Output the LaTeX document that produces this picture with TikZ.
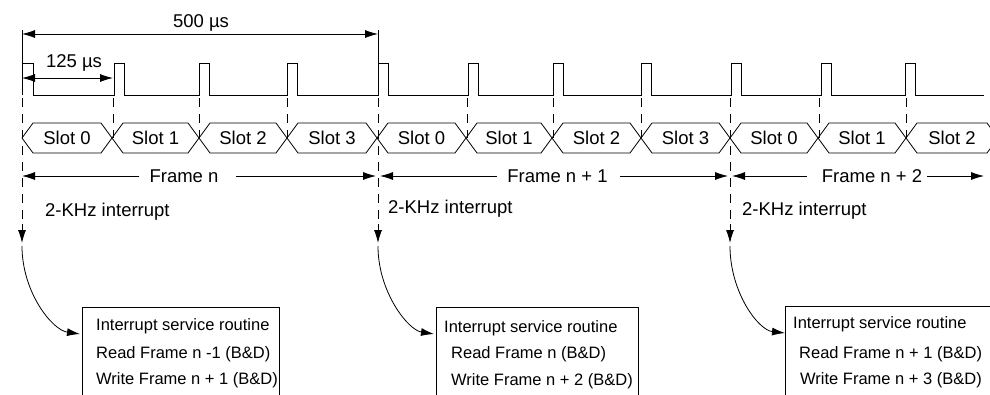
\documentclass[tikz,border=0pt]{standalone}
\usepackage{fontspec}
\setmainfont{Liberation Sans}
\usetikzlibrary{arrows.meta}
\tikzset{
  sig/.style={line width=0.8pt},
  dsh/.style={line width=0.8pt, dash pattern=on 9pt off 7pt},
  arr/.style={line width=0.8pt, -{Latex[length=13pt,width=8pt]}},
  darr/.style={line width=0.8pt, {Latex[length=13pt,width=8pt]}-{Latex[length=13pt,width=8pt]}},
  lbl/.style={font=\fontsize{18.5}{22}\selectfont, inner sep=0pt},
  boxtxt/.style={font=\fontsize{16.5}{20}\selectfont, inner sep=0pt, anchor=base west},
  isrbox/.style={draw, line width=0.8pt, anchor=north west, minimum height=130pt, inner sep=0pt},
}
\begin{document}
\begin{tikzpicture}[x=1pt,y=-1pt]
\useasboundingbox (0,0) rectangle (990,394);
\clip (0,0) rectangle (990,394);

% pulse train
\draw[sig] (22,95) -- (22,63) -- (33,63) -- (33,95)
  \foreach \p in {114,199,287,378,468,553,641,731,821,905} { -- (\p,95) -- (\p,63) -- (\p+10.5,63) -- (\p+10.5,95) } -- (984,95);

% dimension lines
\coordinate (d0) at (22,34);
\coordinate (d1) at (378,34);
\coordinate (e0) at (22,78);
\coordinate (e1) at (113,78);
\draw[sig] (22,30) -- (22,63);
\draw[sig] (378,30) -- (378,63);
\draw[darr] (d0) -- (d1);
\node[lbl, anchor=base] (t500) at (201,27) {500 µs};
\draw[darr] (e0) -- (e1);
\node[lbl, anchor=base] (t125) at (74,67) {125 µs};

% dashed guide lines
\foreach \x in {113,199,287,467,553,641,819,906} \draw[dsh] (\x,98) -- (\x,138);
\foreach \x/\i in {22/1,378/2,730/3} {
  \draw[dsh] (\x,98) -- (\x,226);
  \coordinate (ia\i) at (\x,224);
  \coordinate (ib\i) at (\x,243);
  \draw[arr] (ia\i) -- (ib\i);
  \coordinate (int\i) at (\x,246);
}

% slots
\foreach \a/\b/\s [count=\i] in {22/112/0,112/199/1,199/287/2,287/377/3,377/466/0,466/552/1,552/641/2,641/730/3,730/818/0,818/906/1,906/998/2} {
  \draw[sig] (\a,138) -- (\a+11,123) -- (\b-11,123) -- (\b,138) -- (\b-11,153) -- (\a+11,153) -- cycle;
  \node[lbl, anchor=base] (slot\i) at ({(\a+\b)/2},144) {Slot \s};
}

% frames
\node[lbl, anchor=base] (fr0) at (184,182) {Frame n};
\node[lbl, anchor=base] (fr1) at (557.5,182) {Frame n + 1};
\node[lbl, anchor=base] (fr2) at (872,182) {Frame n + 2};
\coordinate (fa0) at (22,176);  \coordinate (fb0) at (376,176);
\coordinate (fa1) at (380,176); \coordinate (fb1) at (728,176);
\coordinate (fa2) at (732,176); \coordinate (fb2) at (984,176);
\draw[arr] ([xshift=-10pt]fr0.west |- fa0) -- (fa0);
\draw[arr] ([xshift=17pt]fr0.east |- fb0) -- (fb0);
\draw[arr] ([xshift=-10pt]fr1.west |- fa1) -- (fa1);
\draw[arr] ([xshift=12pt]fr1.east |- fb1) -- (fb1);
\draw[arr] ([xshift=-15pt]fr2.west |- fa2) -- (fa2);
\draw[arr] ([xshift=5pt]fr2.east |- fb2) -- (fb2);

% interrupt labels
\node[lbl, anchor=base west] (irq1) at (45,216) {2-KHz interrupt};
\node[lbl, anchor=base west] (irq2) at (388,213) {2-KHz interrupt};
\node[lbl, anchor=base west] (irq3) at (742,215) {2-KHz interrupt};

% ISR boxes
\node[isrbox, minimum width=197pt] (isr1) at (82,307) {};
\node[isrbox, minimum width=202pt] (isr2) at (436,307) {};
\node[isrbox, minimum width=230pt] (isr3) at (785,306) {};

\node[boxtxt] (b1a) at (96,330) {Interrupt service routine};
\node[boxtxt] (b1b) at (96,358) {Read Frame n -1 (B\&D)};
\node[boxtxt] (b1c) at (96,384) {Write Frame n + 1 (B\&D)};
\node[boxtxt] (b2a) at (444,332) {Interrupt service routine};
\node[boxtxt] (b2b) at (451,358) {Read Frame n (B\&D)};
\node[boxtxt] (b2c) at (451,385) {Write Frame n + 2 (B\&D)};
\node[boxtxt] (b3a) at (793,328) {Interrupt service routine};
\node[boxtxt] (b3b) at (799,358) {Read Frame n + 1 (B\&D)};
\node[boxtxt] (b3c) at (800,384) {Write Frame n + 3 (B\&D)};

% curved arrows into the boxes
\draw[arr] (int1) .. controls (22,292) and (52,330) .. ([xshift=-2pt,yshift=-27pt]isr1.north west);
\draw[arr] (int2) .. controls (378,292) and (408,330) .. ([xshift=-2pt,yshift=-27pt]isr2.north west);
\draw[arr] (int3) .. controls (730,292) and (758,330) .. ([xshift=0pt,yshift=-27pt]isr3.north west);
\end{tikzpicture}
\end{document}
